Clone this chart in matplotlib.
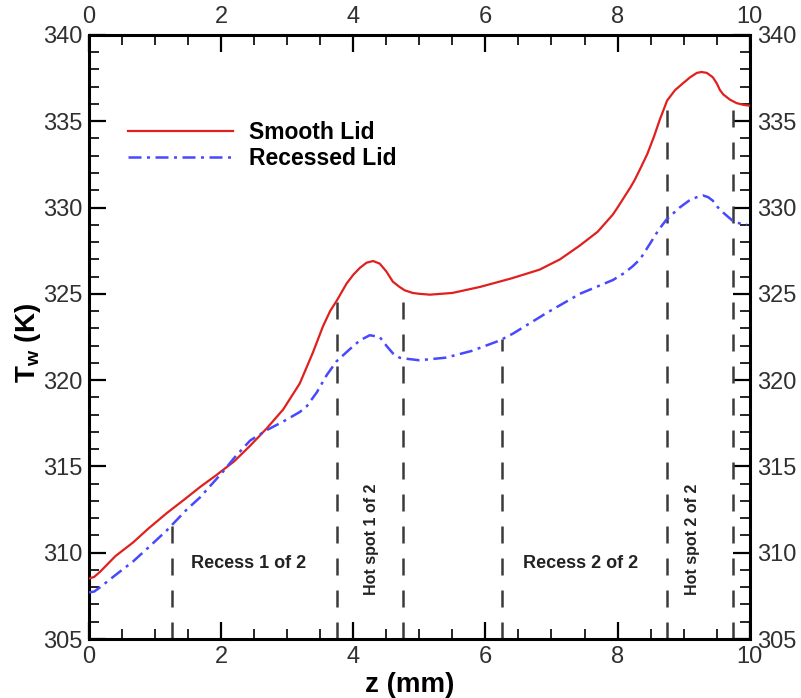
import numpy as np
import matplotlib
matplotlib.use("Agg")
import matplotlib.pyplot as plt
from matplotlib.ticker import MultipleLocator

plt.rcParams['font.family'] = ['Liberation Sans', 'DejaVu Sans']
plt.rcParams['mathtext.fontset'] = 'custom'
plt.rcParams['mathtext.rm'] = 'Liberation Sans:bold'
plt.rcParams['mathtext.bf'] = 'Liberation Sans:bold'

# wall temperature along the channel
z_smooth = [0.0, 0.08, 0.17, 0.4, 0.67, 0.9, 1.18, 1.45, 1.68, 1.93, 2.2, 2.44,
            2.69, 2.94, 3.19, 3.39, 3.54, 3.65, 3.75, 3.9, 4.0, 4.1, 4.2, 4.3,
            4.4, 4.5, 4.6, 4.7, 4.78, 4.9, 5.0, 5.16, 5.5, 5.92, 6.4, 6.82,
            7.13, 7.43, 7.7, 7.93, 8.0, 8.1, 8.2, 8.26, 8.35, 8.45, 8.55, 8.64,
            8.7, 8.75, 8.87, 8.99, 9.1, 9.2, 9.27, 9.35, 9.44, 9.5, 9.55, 9.6,
            9.7, 9.8, 9.9, 10.0]
t_smooth = [308.5, 308.6, 308.9, 309.8, 310.6, 311.4, 312.3, 313.1, 313.8, 314.5,
            315.3, 316.2, 317.2, 318.3, 319.8, 321.6, 323.1, 324.0, 324.6, 325.6,
            326.1, 326.5, 326.8, 326.9, 326.75, 326.3, 325.7, 325.4, 325.2, 325.05,
            325.0, 324.95, 325.05, 325.4, 325.9, 326.4, 327.0, 327.8, 328.6, 329.6,
            330.0, 330.6, 331.2, 331.6, 332.3, 333.1, 334.1, 335.1, 335.7, 336.2,
            336.8, 337.2, 337.55, 337.8, 337.85, 337.8, 337.55, 337.2, 336.8,
            336.55, 336.25, 336.05, 335.95, 335.9]

z_recess = [0.0, 0.08, 0.17, 0.4, 0.67, 0.9, 1.18, 1.48, 1.68, 2.03, 2.2, 2.44,
            2.69, 2.94, 3.19, 3.3, 3.45, 3.6, 3.75, 3.95, 4.1, 4.25, 4.4, 4.5,
            4.6, 4.7, 4.78, 5.0, 5.4, 5.8, 6.22, 6.42, 6.93, 7.43, 7.93, 8.1,
            8.23, 8.34, 8.49, 8.62, 8.74, 8.94, 9.1, 9.2, 9.29, 9.37, 9.44, 9.52,
            9.6, 9.75, 9.87, 9.96]
t_recess = [307.7, 307.75, 308.0, 308.7, 309.5, 310.3, 311.3, 312.5, 313.2, 314.7,
            315.5, 316.5, 317.1, 317.6, 318.15, 318.5, 319.3, 320.3, 321.1, 321.8,
            322.3, 322.6, 322.5, 322.0, 321.55, 321.3, 321.25, 321.15, 321.3, 321.7,
            322.3, 322.7, 323.9, 325.0, 325.8, 326.2, 326.6, 327.0, 327.9, 328.7,
            329.3, 330.0, 330.45, 330.6, 330.7, 330.6, 330.4, 330.0, 329.7, 329.2,
            329.05, 329.0]

# recess / hot spot boundaries and which curve each marker line runs up to
bounds = [1.25, 3.75, 4.75, 6.25, 8.75, 9.75]
bound_to = ['recess', 'smooth', 'smooth', 'recess', 'smooth', 'smooth']

region_labels = ['Recess 1 of 2', 'Hot spot 1 of 2', 'Recess 2 of 2', 'Hot spot 2 of 2']
region_x = [2.42, 4.27, 7.44, 9.14]
region_y = [309.4, 310.8, 309.4, 310.8]
region_rot = [0, 90, 0, 90]
region_size = [13, 11.5, 13, 11.5]

fig = plt.figure(figsize=(8.01, 6.98), dpi=100)
ax = fig.add_axes([0.111, 0.0845, 0.825, 0.8655])

red = '#e0201e'
blue = '#4848ff'

ax.plot(z_smooth, t_smooth, color=red, lw=1.6, label='Smooth Lid', zorder=3)
ax.plot(z_recess, t_recess, color=blue, lw=1.8, ls=(0, (5.2, 2.2, 1.2, 2.2)),
        label='Recessed Lid', zorder=3)

for xb, which in zip(bounds, bound_to):
    if which == 'smooth':
        top = np.interp(xb, z_smooth, t_smooth)
    else:
        top = np.interp(xb, z_recess, t_recess)
    ax.plot([xb, xb], [305, top], color='#3a3a3a', lw=1.8,
            ls=(0, (6.8, 6.0)), zorder=2)

for txt, x, y, r, s in zip(region_labels, region_x, region_y, region_rot, region_size):
    ax.text(x, y, txt, rotation=r, ha='center', va='center',
            fontsize=s, fontweight='bold', color='#222222')

ax.set_xlim(0, 10)
ax.set_ylim(305, 340)
ax.xaxis.set_major_locator(MultipleLocator(2))
ax.xaxis.set_minor_locator(MultipleLocator(0.5))
ax.yaxis.set_major_locator(MultipleLocator(5))
ax.yaxis.set_minor_locator(MultipleLocator(1))

ax.tick_params(which='both', direction='in', top=True, right=True,
               labeltop=True, labelright=True, labelsize=17,
               labelcolor='#303030', pad=5)
ax.tick_params(which='major', length=12, width=1.6)
ax.tick_params(which='minor', length=7.5, width=1.2)
for sp in ax.spines.values():
    sp.set_linewidth(2.2)

ax.set_xlabel('z (mm)', fontsize=20, fontweight='bold')
ax.xaxis.set_label_coords(0.486, -0.055)
ax.set_ylabel(r'T$_{\mathbf{w}}$ (K)', fontsize=20, fontweight='bold')
ax.yaxis.set_label_coords(-0.07, 0.49)

ax.legend(loc='upper left', bbox_to_anchor=(0.059, 0.857), frameon=False,
          prop={'size': 16.5, 'weight': 'bold'}, handlelength=4.6,
          handletextpad=0.7, labelspacing=0.12, borderpad=0, borderaxespad=0)

fig.savefig('out.png', dpi=100)
